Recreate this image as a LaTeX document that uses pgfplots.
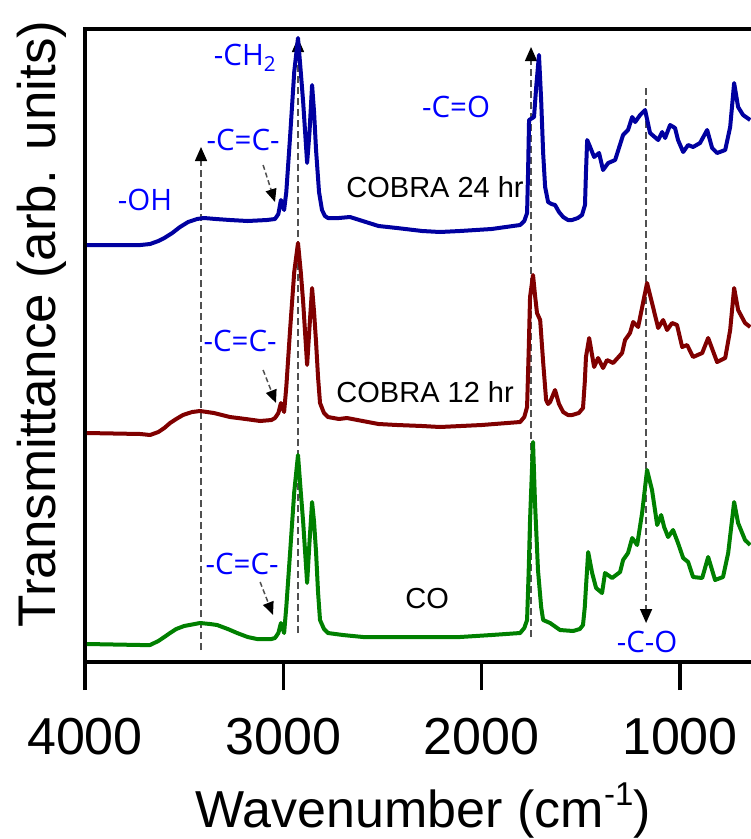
\documentclass[border=0pt]{standalone}
\usepackage{fontspec}
\setmainfont{Liberation Sans}
\newfontfamily\annfont{Open Sans}
\usepackage{pgfplots}
\usepackage{pgfplotstable}
\pgfplotsset{compat=1.18}
\usetikzlibrary{arrows.meta}
\definecolor{cblue}{RGB}{0,0,160}
\definecolor{cred}{RGB}{128,0,0}
\definecolor{cgreen}{RGB}{0,128,0}
\definecolor{annblue}{RGB}{0,0,255}
\definecolor{dashgray}{RGB}{80,80,80}

\pgfplotstableread{
w y
3990 417
3720 417
3672 418
3630 421
3600 424
3560 429
3521 435
3480 440
3435 443
3400 444
3340 443
3269 442
3180 441
3082 442
3042 443
3025 448
3012 462
2996 452
2985 470
2966 525
2945 590
2926 624
2912 590
2900 560
2880 499
2868 530
2855 577
2845 550
2835 512
2820 470
2805 452
2790 446
2775 444
2720 444
2664 445
2600 441
2520 436
2427 434
2300 431
2210 430
2109 431
1950 433
1806 437
1785 441
1771 449
1766 490
1761 542
1736 545
1725 575
1711 607
1700 562
1690 509
1680 475
1665 460
1648 458
1630 457
1610 450
1589 445
1565 442
1544 442
1515 444
1494 447
1479 457
1474 490
1468 522
1453 515
1433 505
1408 509
1388 492
1362 499
1327 502
1287 527
1262 532
1241 545
1226 540
1201 547
1176 552
1151 529
1110 522
1090 530
1075 524
1050 537
1025 534
1010 522
984 510
959 517
934 515
899 519
863 532
838 514
813 509
772 512
747 535
727 579
707 555
682 547
646 542
}\bluedata

\pgfplotstableread{
w y
3990 229
3720 228
3672 227
3630 230
3600 234
3571 239
3540 243
3506 247
3460 250
3420 251
3350 249
3269 245
3190 243
3117 241
3060 242
3042 244
3025 249
3012 259
2996 250
2985 275
2966 332
2945 390
2926 419
2912 390
2900 360
2880 297
2868 335
2855 374
2845 350
2835 320
2825 285
2815 259
2795 249
2775 245
2720 243
2679 244
2600 241
2520 238
2427 237
2300 236
2210 235
2000 237
1806 240
1785 245
1771 255
1763 310
1756 365
1741 387
1730 365
1721 349
1705 342
1690 300
1675 262
1665 258
1655 260
1630 272
1610 258
1589 250
1565 247
1544 247
1510 249
1489 254
1480 280
1474 305
1458 324
1433 295
1413 304
1388 294
1368 302
1337 299
1292 309
1277 322
1252 329
1236 340
1211 335
1166 379
1136 355
1110 334
1085 342
1065 332
1040 339
1015 337
989 315
964 317
934 305
888 309
858 324
813 300
772 304
747 332
727 374
707 352
672 339
646 335
}\reddata

\pgfplotstableread{
w y
3990 18
3720 17
3672 17
3630 21
3600 25
3571 29
3540 33
3500 36
3420 39
3370 38
3334 37
3280 33
3233 29
3180 25
3133 23
3060 23
3042 24
3025 29
3012 39
2996 29
2985 55
2966 109
2945 170
2926 207
2912 170
2900 140
2880 79
2868 120
2855 160
2845 140
2835 110
2825 70
2815 42
2795 33
2775 29
2700 27
2598 25
2400 25
2109 25
1950 27
1806 29
1785 34
1771 42
1763 90
1756 142
1741 220
1731 159
1716 92
1700 55
1690 42
1655 39
1605 32
1539 31
1505 33
1489 37
1480 55
1474 75
1463 110
1443 89
1423 74
1393 69
1378 89
1342 84
1302 90
1287 102
1262 109
1241 124
1216 117
1191 149
1166 192
1141 172
1115 137
1095 147
1080 135
1060 125
1035 132
1010 119
984 104
959 100
934 85
888 84
858 105
823 82
783 85
757 109
727 160
707 139
672 122
646 117
}\greendata

\begin{document}
\begin{tikzpicture}
\begin{axis}[
  at={(85pt,-662pt)}, anchor=south west,
  width=666pt, height=633pt, scale only axis,
  xmin=642, xmax=4000, x dir=reverse,
  ymin=0, ymax=633,
  clip=false,
  axis line style={draw=none},
  xtick={1000,2000,3000,4000},
  xticklabels={1000,2000,3000,4000},
  ytick=\empty,
  xtick pos=bottom,
  tick align=outside,
  major tick length=28pt,
  every tick/.style={black, line width=3.5pt},
  /pgf/number format/assume math mode=true,
  xticklabel style={font=\fontsize{52pt}{60pt}\selectfont, anchor=north, yshift=-25pt},
  xlabel={Wavenumber (cm\raisebox{0.42em}{\fontsize{33pt}{33pt}\selectfont -1})},
  xlabel style={font=\fontsize{52pt}{60pt}\selectfont, at={(axis description cs:0.508,-0.261)}, anchor=base},
  ylabel={Transmittance (arb. units)},
  ylabel style={font=\fontsize{53pt}{60pt}\selectfont, at={(axis description cs:-0.045,0.534)}, anchor=base},
]
\draw[black, line width=3.5pt, line cap=rect] (rel axis cs:0,0) -- (rel axis cs:0,1) -- (rel axis cs:1,1);
\draw[black, line width=3.5pt] (rel axis cs:0,0) -- (rel axis cs:1,0);

% dashed guide lines
\draw[dashgray, line width=1.5pt, dash pattern=on 7pt off 4pt, -{Triangle[width=12pt,length=14pt,black]}] (axis cs:3415,12) -- (axis cs:3415,515);
\draw[dashgray, line width=1.5pt, dash pattern=on 7pt off 4pt, -{Triangle[width=12pt,length=14pt,black]}] (axis cs:2926,29) -- (axis cs:2926,624);
\draw[dashgray, line width=1.5pt, dash pattern=on 7pt off 4pt, -{Triangle[width=12pt,length=14pt,black]}] (axis cs:1751,25) -- (axis cs:1751,615);
\draw[dashgray, line width=1.5pt, dash pattern=on 7pt off 4pt, -{Triangle[width=12pt,length=14pt,black]}] (axis cs:1171,574) -- (axis cs:1171,39);
\draw[dashgray, line width=1.5pt, dash pattern=on 5pt off 3pt, -{Triangle[width=11pt,length=13pt,black]}] (axis cs:3102,497) -- (axis cs:3042,460);
\draw[dashgray, line width=1.5pt, dash pattern=on 5pt off 3pt, -{Triangle[width=11pt,length=13pt,black]}] (axis cs:3102,292) -- (axis cs:3037,259);
\draw[dashgray, line width=1.5pt, dash pattern=on 5pt off 3pt, -{Triangle[width=11pt,length=13pt,black]}] (axis cs:3117,80) -- (axis cs:3052,47);

\addplot[cblue, line width=4pt, line join=round] table[x=w, y=y] {\bluedata};
\addplot[cred, line width=4pt, line join=round] table[x=w, y=y] {\reddata};
\addplot[cgreen, line width=4pt, line join=round] table[x=w, y=y] {\greendata};

\begin{scope}[every node/.style={annblue, font=\annfont\fontsize{29.5pt}{34pt}\selectfont, anchor=base, inner sep=0pt}]
\node at (axis cs:3697,452) {-OH};
\node at (axis cs:3193,597) {-CH\textsubscript{2}};
\node at (axis cs:3203,512) {-C=C-};
\node at (axis cs:3218,311) {-C=C-};
\node at (axis cs:3208,88) {-C=C-};
\node at (axis cs:2129,545) {-C=O};
\node at (axis cs:1166,10) {-C-O};
\end{scope}
\begin{scope}[every node/.style={black, font=\fontsize{29pt}{34pt}\selectfont, anchor=base, inner sep=0pt}]
\node at (axis cs:2235,465) {COBRA 24 hr};
\node at (axis cs:2285,260) {COBRA 12 hr};
\node at (axis cs:2275,54) {CO};
\end{scope}
\end{axis}
\pgfresetboundingbox
\path (0pt,0pt) rectangle (751pt,-839pt);
\end{tikzpicture}
\end{document}
